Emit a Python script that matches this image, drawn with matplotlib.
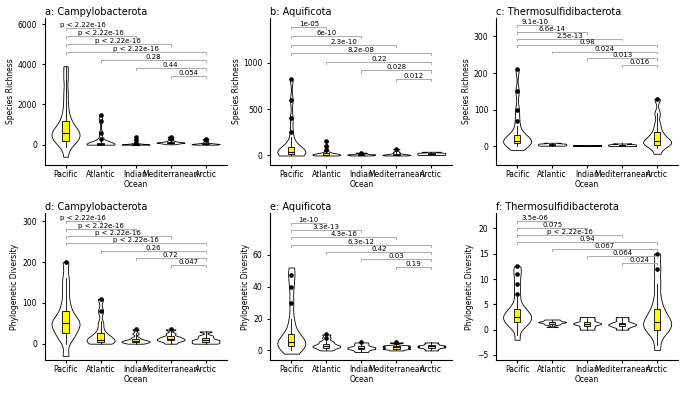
import matplotlib
matplotlib.use("Agg")
import matplotlib.pyplot as plt
import numpy as np

oceans = ["Pacific", "Atlantic", "Indian\nOcean", "Mediterranean", "Arctic"]
pairs = [(0, 1), (0, 2), (0, 3), (0, 4), (1, 4), (2, 4), (3, 4)]

titles = ["a: Campylobacterota", "b: Aquificota", "c: Thermosulfidibacterota",
          "d: Campylobacterota", "e: Aquificota", "f: Thermosulfidibacterota"]
ylabels = ["Species Richness"] * 3 + ["Phylogenetic Diversity"] * 3

# representative sample values per ocean
samples_a = [[-600, 0, 100, 200, 300, 400, 500, 600, 600, 700, 800, 1000, 1200, 1500, 2000, 2600, 3300, 3900],
             [0, 0, 0, 5, 10, 20, 30, 50, 80, 150, 300, 600, 1200, 1500],
             [0, 0, 0, 2, 5, 8, 10, 15, 20, 30, 100, 250, 400],
             [20, 50, 80, 100, 100, 110, 120, 150, 200, 300, 400],
             [0, 10, 20, 30, 30, 40, 50, 80, 150, 250, 300]]
samples_b = [[0, 5, 10, 15, 20, 30, 40, 40, 50, 60, 80, 100, 150, 250, 400, 600, 820],
             [0, 2, 5, 8, 10, 10, 15, 20, 30, 60, 100, 160],
             [0, 2, 5, 8, 10, 12, 15, 20, 30],
             [0, 3, 5, 8, 10, 15, 25, 40, 70],
             [5, 10, 15, 20, 25, 30, 40]]
samples_c = [[-10, 5, 8, 10, 12, 15, 15, 18, 22, 30, 45, 70, 100, 150, 210],
             [2, 3, 4, 5, 6, 7, 8, 10],
             [1, 2, 2, 3, 3, 4],
             [1, 2, 3, 4, 5, 6, 8],
             [-20, 0, 5, 8, 12, 15, 20, 30, 40, 60, 90, 130]]
samples_d = [[-30, 10, 20, 30, 40, 50, 50, 55, 65, 80, 100, 130, 160, 200],
             [0, 2, 5, 8, 10, 15, 20, 30, 50, 80, 110],
             [0, 2, 4, 5, 6, 8, 10, 15, 25, 35],
             [0, 5, 8, 10, 12, 15, 18, 25, 35],
             [0, 2, 5, 8, 10, 15, 20, 30]]
samples_e = [[-2, 1, 2, 3, 4, 5, 5, 6, 8, 10, 14, 20, 30, 40, 47, 52],
             [0, 1, 2, 2, 3, 3, 4, 5, 6, 8, 10],
             [-1, 0, 1, 1, 2, 2, 3, 4, 5],
             [0, 1, 1, 2, 2, 3, 3, 5],
             [0, 1, 2, 2, 3, 3, 4, 5]]
samples_f = [[-2, 0.5, 1, 1.5, 2, 2.5, 2.5, 3, 3.5, 4, 5, 7, 9, 11, 12.5],
             [0.5, 1, 1.2, 1.4, 1.5, 1.6, 1.8, 2],
             [0, 0.5, 1, 1.2, 1.5, 2, 2.5],
             [0, 0.5, 0.8, 1, 1.2, 1.5, 2, 2.5],
             [-4, -1, 0, 0.5, 1, 1.5, 2, 3, 4, 6, 9, 12, 15]]

# box stats per ocean: (q1, median, q3, whisker low, whisker high)
boxes_a = [(200, 600, 1200, -100, 3900), (0, 20, 80, 0, 200), (0, 5, 15, 0, 40),
           (60, 100, 150, 20, 250), (10, 30, 60, 0, 120)]
boxes_b = [(15, 40, 90, 0, 200), (3, 10, 25, 0, 50), (5, 10, 15, 0, 25),
           (5, 10, 20, 0, 40), (12, 20, 30, 5, 40)]
boxes_c = [(8, 15, 30, 0, 55), (4, 5, 7, 2, 10), (2, 2.5, 3, 1, 4),
           (2, 3, 5, 1, 8), (5, 15, 40, -5, 90)]
boxes_d = [(25, 50, 80, 0, 160), (3, 10, 25, 0, 55), (4, 6, 12, 0, 25),
           (8, 12, 18, 0, 30), (3, 8, 15, 0, 30)]
boxes_e = [(3, 5, 10, 0, 20), (1.5, 2.5, 4, 0, 7), (1, 1.5, 2.5, -1, 4),
           (1, 2, 3, 0, 4), (1.5, 2.5, 3.5, 0, 5)]
boxes_f = [(1.5, 2.5, 4, -1, 6.5), (1.2, 1.5, 1.6, 0.8, 2), (0.8, 1.2, 1.6, 0, 2.5),
           (0.8, 1.1, 1.4, 0, 2.2), (0, 1.5, 4, -3, 9)]

fliers_a = [[], [300, 600, 1200, 1500], [100, 250, 400], [300, 400], [250, 300]]
fliers_b = [[250, 400, 600, 820], [60, 100, 160], [30], [70], []]
fliers_c = [[70, 100, 150, 210], [], [], [], [130]]
fliers_d = [[200], [80, 110], [35], [35], []]
fliers_e = [[30, 40, 47], [8, 10], [5], [5], []]
fliers_f = [[7, 9, 11, 12.5], [], [], [], [12, 15]]

pvals_a = ["p < 2.22e-16"] * 4 + ["0.28", "0.44", "0.054"]
pvals_b = ["1e-05", "6e-10", "2.3e-10", "8.2e-08", "0.22", "0.028", "0.012"]
pvals_c = ["9.1e-10", "6.6e-14", "2.5e-13", "0.98", "0.024", "0.013", "0.016"]
pvals_d = ["p < 2.22e-16"] * 4 + ["0.26", "0.72", "0.047"]
pvals_e = ["1e-10", "3.3e-13", "4.3e-16", "6.3e-12", "0.42", "0.03", "0.19"]
pvals_f = ["3.5e-06", "0.075", "p < 2.22e-16", "0.94", "0.067", "0.064", "0.024"]

# top bracket height, step between brackets, y limits, ticks
bracket_top = [5800, 1380, 330, 300, 80, 21.5]
bracket_step = [400, 93, 18, 18, 4.6, 1.4]
ylims = [(-1000, 6300), (-100, 1480), (-50, 350), (-40, 320), (-6, 86), (-6, 23)]
yticks = [[0, 2000, 4000, 6000], [0, 500, 1000], [0, 100, 200, 300],
          [0, 100, 200, 300], [0, 20, 40, 60], [-5, 0, 5, 10, 15, 20]]

all_samples = [samples_a, samples_b, samples_c, samples_d, samples_e, samples_f]
all_boxes = [boxes_a, boxes_b, boxes_c, boxes_d, boxes_e, boxes_f]
all_fliers = [fliers_a, fliers_b, fliers_c, fliers_d, fliers_e, fliers_f]
all_pvals = [pvals_a, pvals_b, pvals_c, pvals_d, pvals_e, pvals_f]

fig, axes = plt.subplots(2, 3, figsize=(6.85, 4.0), dpi=100)
plt.subplots_adjust(left=0.065, right=0.99, top=0.955, bottom=0.1, wspace=0.24, hspace=0.33)

for k, ax in enumerate(axes.flat):
    data = all_samples[k]
    pos = np.arange(len(data))
    vp = ax.violinplot(data, positions=pos, widths=0.8, showextrema=False, bw_method=0.25)
    for body in vp["bodies"]:
        body.set_facecolor("white")
        body.set_edgecolor("black")
        body.set_linewidth(0.6)
        body.set_alpha(1)
    stats = []
    for (q1, med, q3, lo, hi), fl in zip(all_boxes[k], all_fliers[k]):
        stats.append(dict(q1=q1, med=med, q3=q3, whislo=lo, whishi=hi, fliers=fl))
    ax.bxp(stats, positions=pos, widths=0.18, patch_artist=True, showcaps=False,
           boxprops=dict(facecolor="#ffff00", edgecolor="black", linewidth=0.6),
           medianprops=dict(color="black", linewidth=0.8),
           whiskerprops=dict(linewidth=0.6),
           flierprops=dict(marker="o", markersize=2.3, markerfacecolor="black",
                           markeredgecolor="black"))
    for n, (i, j) in enumerate(pairs):
        y = bracket_top[k] - n * bracket_step[k]
        tick = bracket_step[k] * 0.25
        ax.plot([i, i, j, j], [y - tick, y, y, y - tick], color="#aaaaaa", lw=0.7)
        ax.text((i + j) / 2, y, all_pvals[k][n], ha="center", va="bottom", fontsize=5, linespacing=1)
    ax.set_ylim(*ylims[k])
    ax.set_yticks(yticks[k])
    ax.set_xlim(-0.6, 4.6)
    ax.set_xticks(pos)
    ax.set_xticklabels(oceans, fontsize=5.5)
    ax.tick_params(axis="y", labelsize=5.5, length=2)
    ax.tick_params(axis="x", length=2, pad=1.5)
    ax.set_ylabel(ylabels[k], fontsize=5.5, labelpad=2)
    ax.set_title(titles[k], loc="left", fontsize=7, pad=2)
    ax.spines["top"].set_visible(False)
    ax.spines["right"].set_visible(False)

plt.savefig("out.png", dpi=100)
